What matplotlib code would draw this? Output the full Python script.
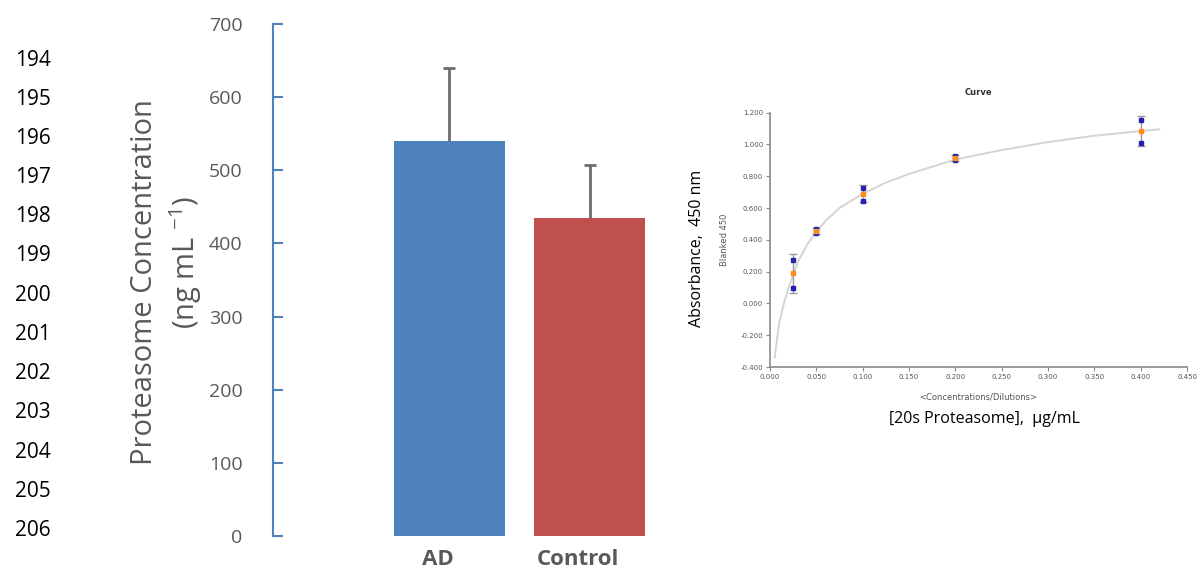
import matplotlib.pyplot as plt

# left panel: bar chart
groups = ["AD", "Control"]
conc = [540, 435]
conc_err = [100, 72]
bar_colors = ["#4F81BD", "#C0504D"]
line_numbers = list(range(194, 207))

# right panel: standard curve
std_x = [0.025, 0.05, 0.1, 0.2, 0.4]
std_mean = [0.19, 0.455, 0.69, 0.915, 1.085]
std_err = [0.123, 0.017, 0.052, 0.02, 0.097]
rep1 = [0.275, 0.47, 0.725, 0.925, 1.155]
rep2 = [0.095, 0.44, 0.645, 0.90, 1.01]
curve_x = [0.005, 0.01, 0.015, 0.02, 0.025, 0.03, 0.04, 0.05, 0.06, 0.075,
           0.1, 0.125, 0.15, 0.2, 0.25, 0.3, 0.35, 0.4, 0.42]
curve_y = [-0.34, -0.12, 0.0, 0.1, 0.18, 0.26, 0.37, 0.45, 0.52, 0.6,
           0.69, 0.76, 0.815, 0.905, 0.965, 1.015, 1.055, 1.085, 1.095]

fig = plt.figure(figsize=(11.98, 5.72), dpi=100)
W, H = 1198, 572
gray = "#595959"

# line numbers down the left margin
for i, n in enumerate(line_numbers):
    fig.text(15 / W, 1 - (60 + i * 39.2) / H, str(n), fontsize=15,
             family="Open Sans", color="black", va="center", ha="left")

ax = fig.add_axes([273 / W, 36 / H, 407 / W, 512 / H])
ax.bar([0, 1], conc, width=0.79, color=bar_colors, zorder=2)
eb = ax.errorbar([0, 1], conc, yerr=[[0, 0], conc_err], fmt="none", ecolor="#6d6d6d",
                 elinewidth=2, capsize=4, capthick=2, zorder=3)
eb[1][0].set_visible(False)  # no cap at the bar top
ax.set_xlim(-1.26, 1.646)
ax.set_ylim(0, 700)
ax.set_yticks(range(0, 701, 100))
for s in ["top", "right", "bottom"]:
    ax.spines[s].set_visible(False)
ax.spines["left"].set_color("#4F81BD")
ax.spines["left"].set_linewidth(1.5)
ax.tick_params(axis="y", direction="in", length=7, width=1.5, color="#4F81BD",
               labelsize=14, labelcolor=gray, pad=22)
ax.set_xticks([])
for lbl in ax.get_yticklabels():
    lbl.set_family("Open Sans")
for i, g in enumerate(groups):
    ax.text(i - 0.08, -32, g, ha="center", va="center", fontsize=16, fontweight="bold",
            color=gray, family="Open Sans", clip_on=False)
fig.text(145 / W, 1 - 282 / H, "Proteasome Concentration", rotation=90,
         fontsize=21, color=gray, family="Open Sans", ha="center", va="center")
fig.text(186 / W, 1 - 262 / H, r"(ng mL $^{\mathregular{-1}}$)", rotation=90,
         fontsize=21, color=gray, family="Open Sans", ha="center", va="center")

# standard curve
ax2 = fig.add_axes([770 / W, 205 / H, 417 / W, 254.3 / H])
ax2.plot(curve_x, curve_y, color="#d4d4d4", lw=1.4, zorder=1)
ax2.errorbar(std_x, std_mean, yerr=std_err, fmt="none", ecolor="#9a9a9a",
             elinewidth=1, capsize=3, capthick=1, zorder=2)
ax2.plot(std_x, rep1, "s", color="#2323b0", ms=2.2, zorder=3)
ax2.plot(std_x, rep2, "s", color="#2323b0", ms=2.2, zorder=3)
ax2.plot(std_x, std_mean, "s", color="#ff8c1a", ms=2.2, zorder=4)
ax2.set_xlim(0, 0.45)
ax2.set_ylim(-0.4, 1.2)
ax2.set_xticks([i * 0.05 for i in range(10)])
ax2.set_yticks([-0.4 + i * 0.2 for i in range(9)])
ax2.set_xticklabels([f"{i * 0.05:.3f}" for i in range(10)])
ax2.set_yticklabels([f"{-0.4 + i * 0.2:.3f}" for i in range(9)])
for s in ["top", "right"]:
    ax2.spines[s].set_visible(False)
for s in ["left", "bottom"]:
    ax2.spines[s].set_color("#8a8a8a")
    ax2.spines[s].set_linewidth(1.2)
ax2.tick_params(direction="out", length=3, color="#8a8a8a", labelsize=5,
                labelcolor="#555555", pad=2)
ax2.set_title("Curve", fontsize=6, fontweight="bold", color="#333333", pad=13)
ax2.set_xlabel("<Concentrations/Dilutions>", fontsize=6, color="#555555", labelpad=9)
ax2.set_ylabel("Blanked 450", fontsize=6, color="#555555", labelpad=8)
fig.text(697 / W, 1 - 248 / H, "Absorbance,  450 nm", rotation=90, fontsize=11.5,
         color="black", family="Open Sans", ha="center", va="center")
fig.text(984 / W, 1 - 419 / H, "[20s Proteasome],  µg/mL", fontsize=11.5,
         color="black", family="Open Sans", ha="center", va="center")

fig.savefig("out.png", dpi=100)
